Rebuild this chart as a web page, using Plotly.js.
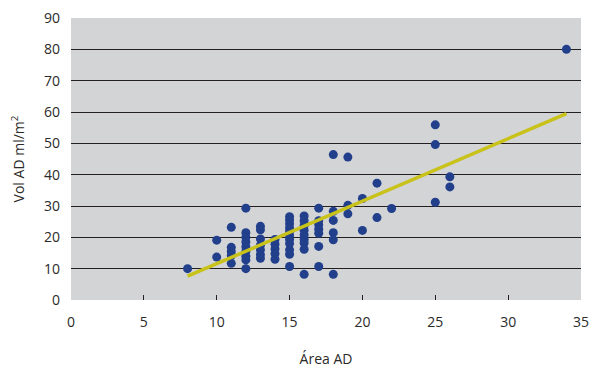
<!DOCTYPE html>
<html>
<head>
<meta charset="utf-8">
<script src="https://cdn.plot.ly/plotly-3.0.1.min.js"></script>
<style>html,body{margin:0;padding:0;background:#fff;}#chart{width:592px;height:376px;}</style>
</head>
<body>
<div id="chart"></div>
<script>
// Área AD (x) and Vol AD ml/m² (y) for every patient point
const areaAD = [
  8,
  10, 10,
  11, 11, 11, 11, 11,
  12, 12, 12, 12, 12, 12, 12, 12, 12,
  13, 13, 13, 13, 13, 13, 13,
  14, 14, 14, 14, 14,
  15, 15, 15, 15, 15, 15, 15, 15, 15, 15, 15,
  16, 16, 16, 16, 16, 16, 16, 16, 16,
  17, 17, 17, 17, 17, 17, 17,
  18, 18, 18, 18, 18, 18,
  19, 19, 19,
  20, 20,
  21, 21,
  22,
  25, 25, 25,
  26, 26,
  34
];
const volAD = [
  10,
  19.1, 13.7,
  23.2, 16.8, 15.5, 14.2, 11.7,
  29.3, 21.5, 20, 18.5, 17, 15.5, 14, 12.8, 10,
  23.5, 22.4, 19.5, 17.5, 16, 14.5, 13.3,
  19.3, 17.8, 16.3, 14.8, 13,
  26.6, 25.5, 24.3, 23, 21.8, 20.5, 19.3, 18, 16, 14.6, 10.7,
  26.8, 25.3, 23.8, 22.3, 20.8, 19.3, 18.2, 16.2, 8.2,
  29.3, 25.3, 24, 22.6, 21.3, 17.1, 10.7,
  46.4, 28.3, 25.4, 21.5, 19.2, 8.2,
  45.6, 30.2, 27.5,
  32.4, 22.2,
  37.3, 26.3,
  29.2,
  55.9, 49.6, 31.2,
  39.3, 36.1,
  80
];
// Regression line end points
const trendX = [8, 34];
const trendY = [7.6, 59.5];
// Axis ticks
const xTicks = [0, 5, 10, 15, 20, 25, 30, 35];
const xTickMarks = [5, 10, 15, 20, 25, 30];
const yTicks = [0, 10, 20, 30, 40, 50, 60, 70, 80, 90];
const yGrid = [10, 20, 30, 40, 50, 60, 70, 80];

const font = 'Open Sans, Noto Sans, sans-serif';
const txt = '#2b2a29';

const traces = [
  {x: [], y: [], xaxis: 'x2', yaxis: 'y2', type: 'scatter', mode: 'markers', showlegend: false, hoverinfo: 'skip'},
  {x: areaAD, y: volAD, type: 'scatter', mode: 'markers',
   marker: {color: '#213f8b', size: 9}, showlegend: false, cliponaxis: false},
  {x: trendX, y: trendY, type: 'scatter', mode: 'lines',
   line: {color: '#c8c21a', width: 3.5}, showlegend: false}
];

const layout = {
  width: 592, height: 376,
  margin: {l: 71, r: 11, t: 18, b: 76},
  paper_bgcolor: '#ffffff',
  plot_bgcolor: '#d3d4d6',
  font: {family: font, size: 14, color: txt},
  xaxis: {
    range: [0, 35], tickmode: 'array', tickvals: xTicks,
    ticks: '', showgrid: false, zeroline: false, showline: false,
    tickfont: {family: font, size: 14, color: txt},
    ticklabelstandoff: 12,
    title: {text: 'Área AD', font: {family: font, size: 14, color: txt}, standoff: 24},
    fixedrange: true
  },
  xaxis2: {
    overlaying: 'x', anchor: 'y', side: 'bottom',
    range: [0, 35], tickmode: 'array', tickvals: xTickMarks,
    ticks: 'inside', ticklen: 5, tickwidth: 1.2, tickcolor: '#231f20',
    showticklabels: false, showgrid: false, zeroline: false, showline: false
  },
  yaxis: {
    range: [0, 90], tickmode: 'array', tickvals: yTicks,
    ticks: '', showgrid: false, zeroline: false, showline: false,
    tickfont: {family: font, size: 14, color: txt},
    ticklabelstandoff: 10,
    title: {text: 'Vol AD ml/m<sup>2</sup>', font: {family: font, size: 14, color: txt}, standoff: 16},
    fixedrange: true
  },
  yaxis2: {
    overlaying: 'y', anchor: 'x', side: 'left',
    range: [0, 90], tickmode: 'array', tickvals: yGrid,
    showticklabels: false, ticks: '',
    showgrid: true, gridcolor: '#231f20', gridwidth: 1,
    zeroline: false, showline: false
  }
};

Plotly.newPlot('chart', traces, layout, {displayModeBar: false, staticPlot: true});
</script>
</body>
</html>
